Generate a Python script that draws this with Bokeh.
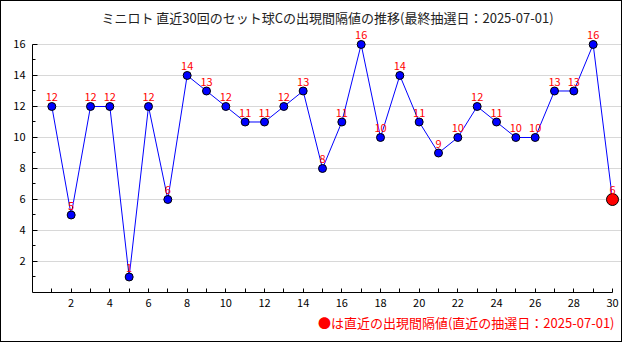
from bokeh.plotting import figure
from bokeh.models import FixedTicker, Range1d, Title, ColumnDataSource
from bokeh.core.properties import value
from bokeh.embed import file_html
from bokeh.resources import INLINE

draws = list(range(1, 31))
intervals = [12, 5, 12, 12, 1, 12, 6, 14, 13, 12, 11, 11, 12, 13, 8,
             11, 16, 10, 14, 11, 9, 10, 12, 11, 10, 10, 13, 13, 16, 6]
x_ticks = list(range(2, 31, 2))
x_minor = list(range(1, 30, 2))
y_ticks = list(range(2, 17, 2))
y_minor = list(range(1, 16, 2))
title_text = "ミニロト 直近30回のセット球Cの出現間隔値の推移(最終抽選日：2025-07-01)"
note_text = "●は直近の出現間隔値(直近の抽選日：2025-07-01)"

FONT = "Noto Sans CJK JP"

p = figure(width=622, height=342, output_backend="svg", toolbar_location=None,
           x_range=Range1d(0, 30.517), y_range=Range1d(0, 17.16),
           min_border_left=31, min_border_right=1, min_border_top=25, min_border_bottom=51,
           styles={"border": "1px solid black"})
p.outline_line_color = None
p.background_fill_color = "white"
p.border_fill_color = "white"

p.title.text = title_text
p.title.text_font = FONT
p.title.text_font_size = "13px"
p.title.text_font_style = "normal"
p.title.text_color = "#222222"
p.title.align = "center"
p.title.standoff = 0
p.title.offset = 0

note = Title(text=note_text, align="right", text_font=FONT, text_font_size="13px",
             text_font_style="normal", text_color="red", standoff=2, offset=8)
p.add_layout(note, "below")

src = ColumnDataSource(dict(x=draws, y=intervals, t=[str(v) for v in intervals]))

p.line("x", "y", source=src, line_color="blue", line_width=1)
p.scatter(draws[:-1], intervals[:-1], size=8, fill_color="blue", line_color="black", line_width=1)
p.scatter([draws[-1]], [intervals[-1]], size=12, fill_color="red", line_color="black", line_width=1)
p.text("x", "y", text="t", source=src, text_color="red", text_font=value(FONT),
       text_font_size="11px", text_align="center", text_baseline="bottom", y_offset=-5)

for ax in (p.xaxis[0], p.yaxis[0]):
    ax.axis_line_color = "black"
    ax.major_tick_line_color = "black"
    ax.minor_tick_line_color = "black"
    ax.major_label_text_font = FONT
    ax.major_label_text_font_size = "11px"
    ax.major_label_text_color = "black"
    ax.major_tick_out = 0
    ax.minor_tick_out = 0

p.xaxis.ticker = FixedTicker(ticks=x_ticks, minor_ticks=x_minor)
p.xaxis.bounds = (0, 30)
p.xaxis.major_tick_in = 4
p.xaxis.minor_tick_in = 4
p.xaxis.major_label_standoff = 6

p.yaxis.ticker = FixedTicker(ticks=y_ticks, minor_ticks=y_minor)
p.yaxis.bounds = (0, 16)
p.yaxis.major_tick_in = 5
p.yaxis.minor_tick_in = 3
p.yaxis.major_label_standoff = 7

p.xgrid.visible = False
p.ygrid.grid_line_color = "#d8d8d8"
p.ygrid.bounds = (0, 30)

open("out.html", "w").write(file_html(p, INLINE))
